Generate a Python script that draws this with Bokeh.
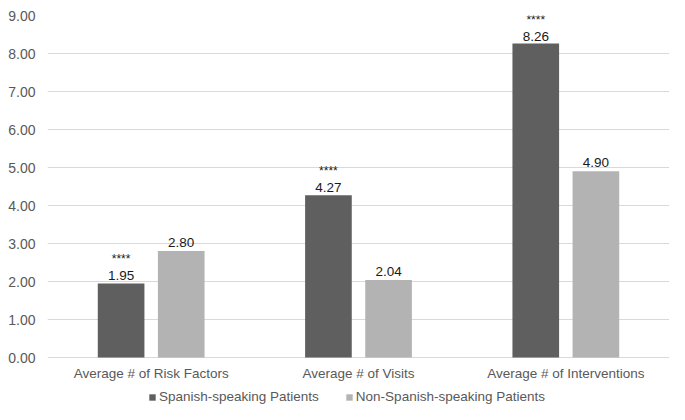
from bokeh.plotting import figure
from bokeh.models import ColumnDataSource, FactorRange, Range1d, Legend, LegendItem, NumeralTickFormatter, FixedTicker
from bokeh.transform import dodge
from bokeh.core.properties import value
from bokeh.embed import file_html
from bokeh.resources import INLINE

categories = ["Average # of Risk Factors", "Average # of Visits", "Average # of Interventions"]
spanish = [1.95, 4.27, 8.26]
non_spanish = [2.80, 2.04, 4.90]
significance = ["****", "****", "****"]
series_names = ["Spanish-speaking Patients", "Non-Spanish-speaking Patients"]
y_ticks = [0, 1, 2, 3, 4, 5, 6, 7, 8, 9]

FONT = "Liberation Sans"
DARK = "#5f5f5f"
LIGHT = "#b3b3b3"
GRAY_TXT = "#595959"
FS = "13.5px"

W, H = 669, 404
TOP, LEFT = 15, 47
PX_PER_UNIT = 38.0
frame_h = H - TOP
y_lo = 9 - frame_h / PX_PER_UNIT

src = ColumnDataSource(dict(
    cat=categories,
    zero=[0] * len(categories),
    sp=spanish,
    nsp=non_spanish,
    sp_lbl=["%.2f" % v for v in spanish],
    nsp_lbl=["%.2f" % v for v in non_spanish],
    sig=significance,
))

p = figure(width=W, height=H, x_range=FactorRange(*categories), y_range=Range1d(y_lo, 9),
           output_backend="svg", toolbar_location=None, x_axis_location=None,
           min_border_left=LEFT, min_border_right=0, min_border_top=TOP, min_border_bottom=0)
p.outline_line_color = None
p.background_fill_color = "white"
p.border_fill_color = "white"

r1 = p.vbar(x=dodge("cat", -0.145, range=p.x_range), top="sp", bottom=0, width=0.225, source=src,
            fill_color=DARK, line_color=None)
r2 = p.vbar(x=dodge("cat", 0.145, range=p.x_range), top="nsp", bottom=0, width=0.225, source=src,
            fill_color=LIGHT, line_color=None)

p.text(x=dodge("cat", -0.145, range=p.x_range), y="sp", text="sp_lbl", source=src,
       text_align="center", text_baseline="bottom", y_offset=-3,
       text_font=value(FONT), text_font_size=FS, text_color="#1a1a1a")
p.text(x=dodge("cat", 0.145, range=p.x_range), y="nsp", text="nsp_lbl", source=src,
       text_align="center", text_baseline="bottom", y_offset=-4,
       text_font=value(FONT), text_font_size=FS, text_color="#1a1a1a")
p.text(x=dodge("cat", -0.145, range=p.x_range), y="sp", text="sig", source=src,
       text_align="center", text_baseline="bottom", y_offset=-17,
       text_font=value(FONT), text_font_size="12px", text_color="#1a1a1a")

# category labels under the zero line
p.text(x="cat", y="zero", text="cat", source=src, text_align="center", text_baseline="top",
       y_offset=8, text_font=value(FONT), text_font_size=FS, text_color=GRAY_TXT)

p.ygrid.grid_line_color = "#d9d9d9"
p.ygrid.grid_line_width = 1
p.xgrid.grid_line_color = None

p.yaxis.ticker = FixedTicker(ticks=y_ticks)
p.yaxis.formatter = NumeralTickFormatter(format="0.00")
p.yaxis.axis_line_color = None
p.yaxis.major_tick_line_color = None
p.yaxis.minor_tick_line_color = None
p.yaxis.major_tick_out = 0
p.yaxis.major_tick_in = 0
p.yaxis.major_label_text_font = FONT
p.yaxis.major_label_text_font_size = "14px"
p.yaxis.major_label_text_color = GRAY_TXT
p.yaxis.major_label_standoff = 12

legend = Legend(items=[LegendItem(label=series_names[0], renderers=[r1]),
                       LegendItem(label=series_names[1], renderers=[r2])],
                orientation="horizontal", location=(101, 0),
                label_text_font=FONT, label_text_font_size=FS, label_text_color=GRAY_TXT,
                glyph_width=8, glyph_height=8, label_height=13, label_standoff=3, spacing=26,
                border_line_color=None, background_fill_alpha=0,
                padding=0, margin=0)
p.add_layout(legend, "center")

open("out.html", "w").write(file_html(p, INLINE))
